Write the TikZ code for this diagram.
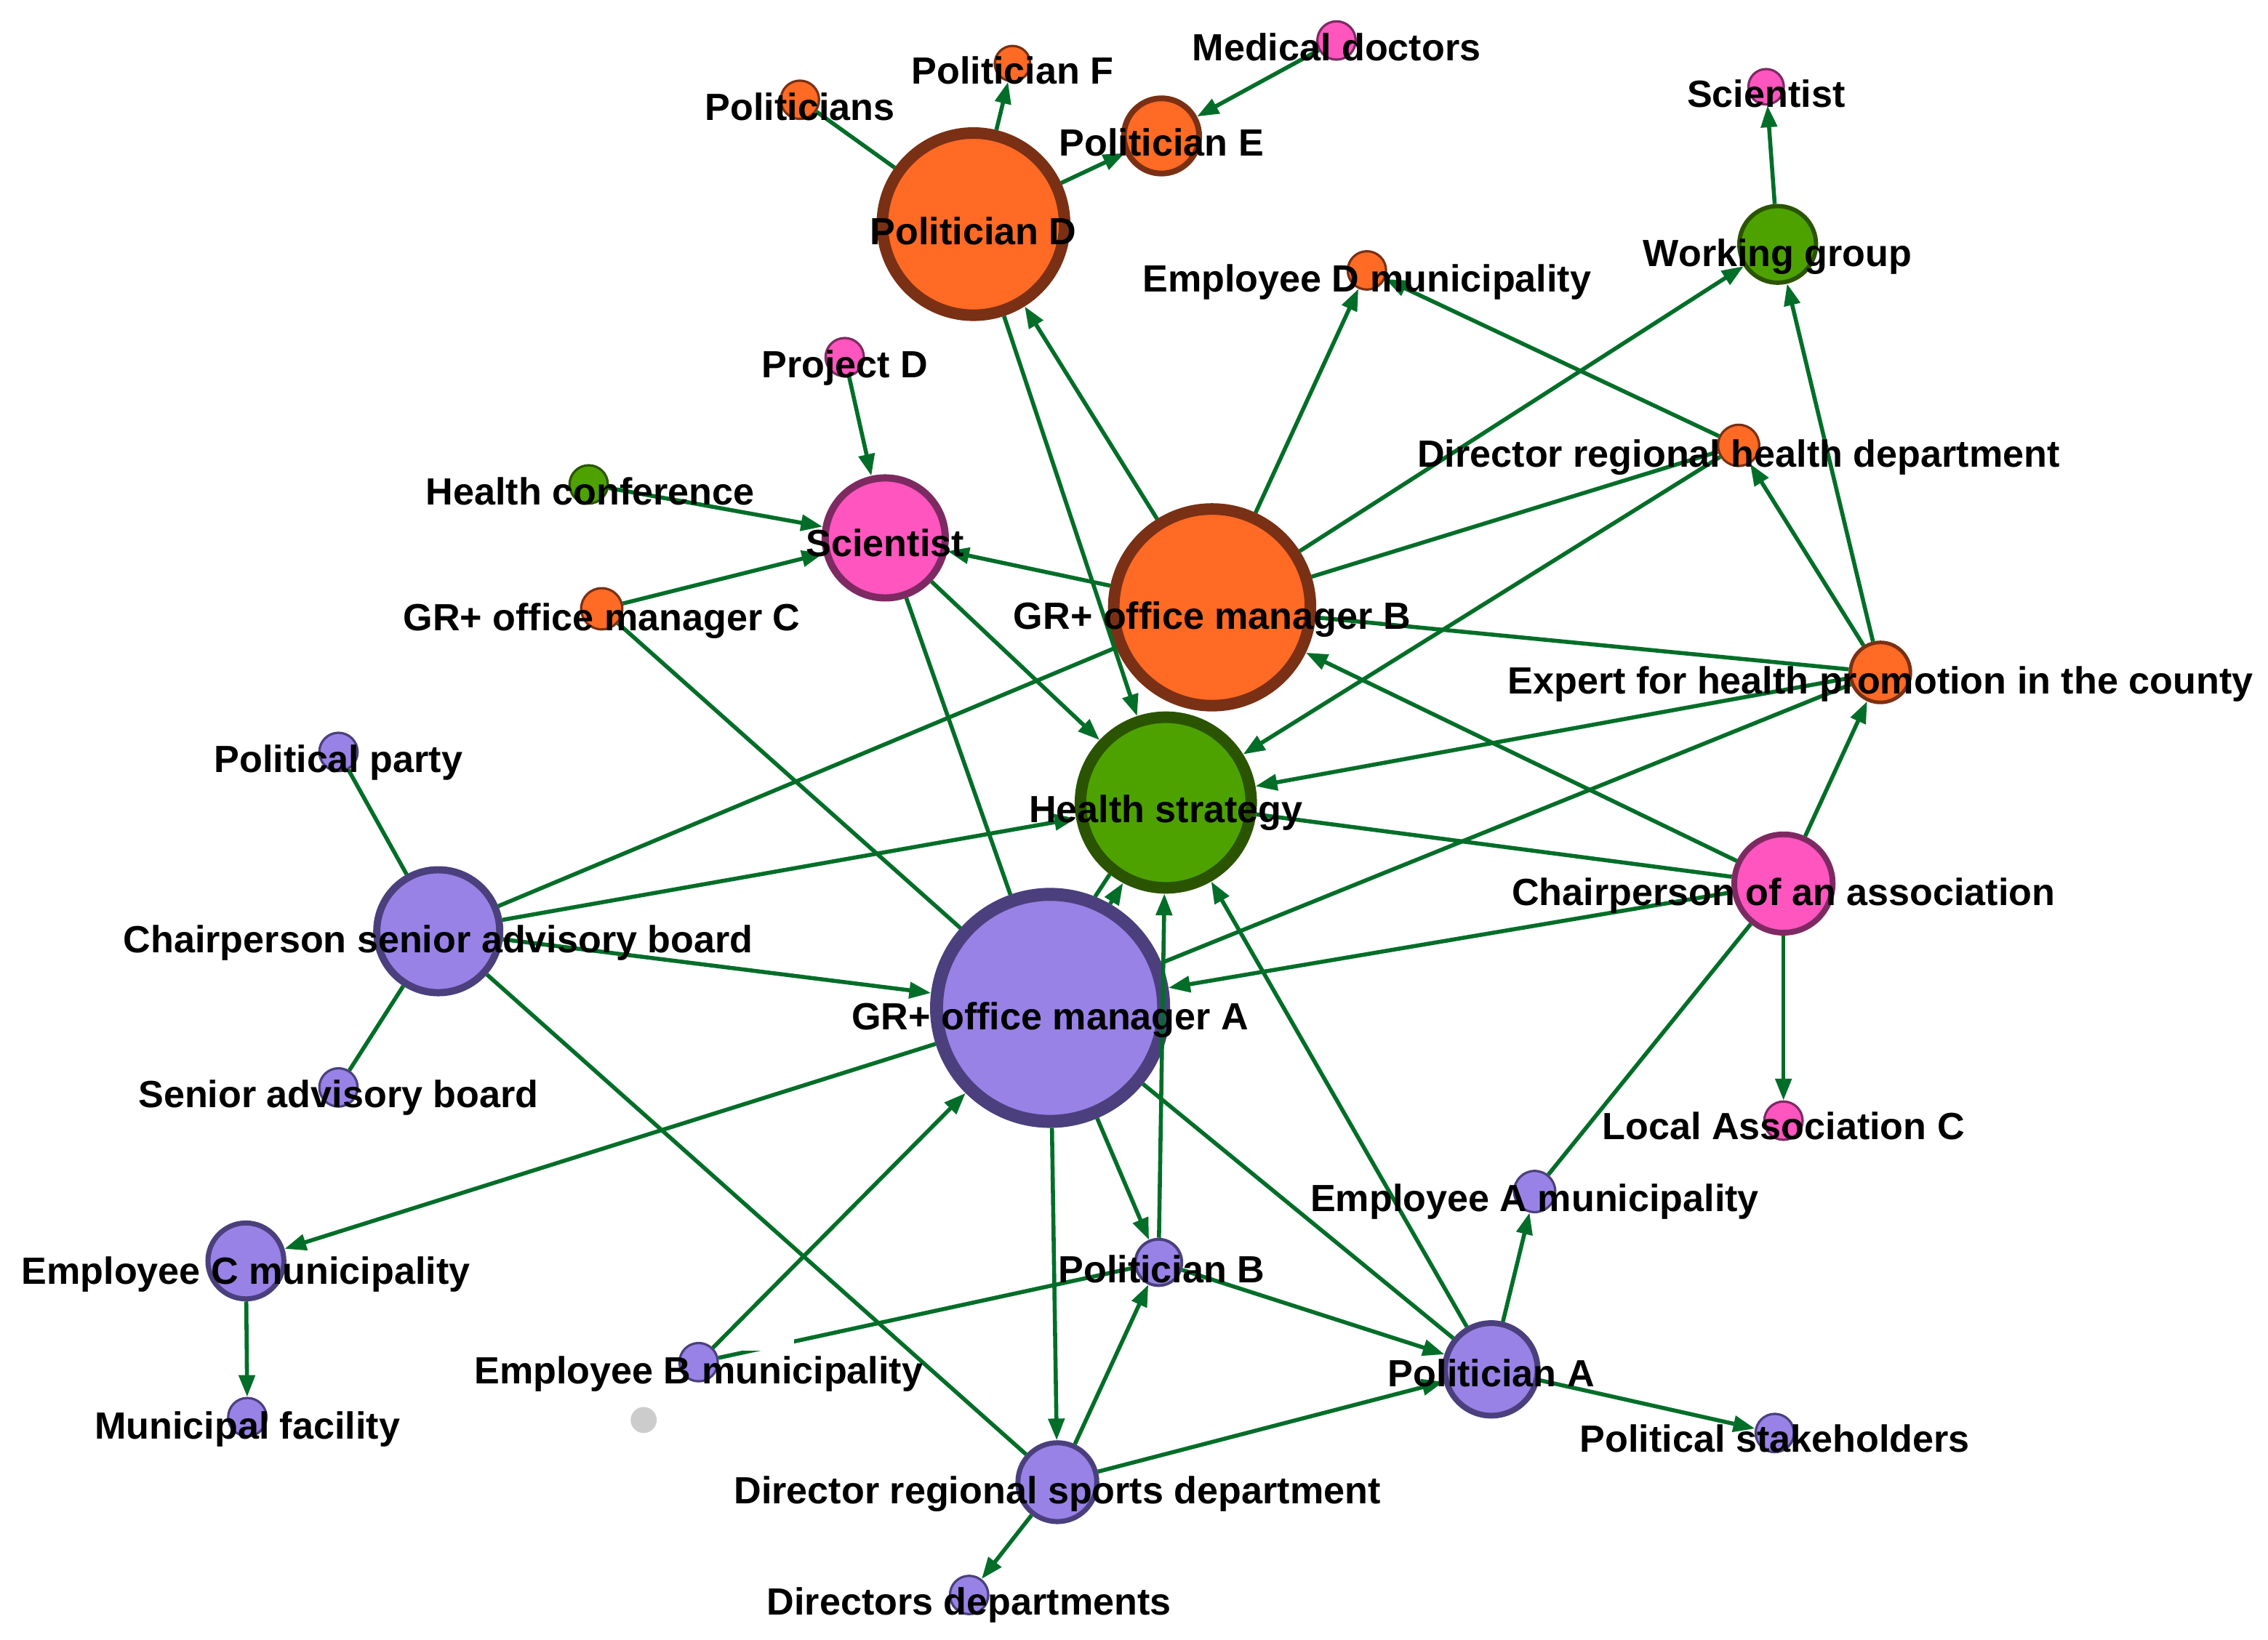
\documentclass[tikz,border=0pt]{standalone}
\usepackage{fontspec}
\setmainfont{Liberation Sans}
\usetikzlibrary{arrows.meta}
\definecolor{orF}{RGB}{255,106,36}
\definecolor{orD}{RGB}{122,48,20}
\definecolor{piF}{RGB}{255,85,190}
\definecolor{piD}{RGB}{126,42,98}
\definecolor{grF}{RGB}{78,162,0}
\definecolor{grD}{RGB}{42,84,0}
\definecolor{puF}{RGB}{152,130,230}
\definecolor{puD}{RGB}{75,64,125}
\definecolor{edgeG}{RGB}{0,110,40}
\definecolor{isoG}{RGB}{204,204,204}
\tikzset{
  vert/.style={circle, inner sep=0pt},
  vO/.style={vert, fill=orF, draw=orD},
  vP/.style={vert, fill=piF, draw=piD},
  vG/.style={vert, fill=grF, draw=grD},
  vU/.style={vert, fill=puF, draw=puD},
  vI/.style={vert, fill=isoG},
  lab/.style={font=\bfseries\fontsize{13.1}{15}\selectfont, anchor=base, inner sep=0pt, text=black},
  link/.style={draw=edgeG, line width=1.4pt},
  arr/.style={link, -{Triangle[length=7.5pt,width=5.5pt]}},
}
\newcommand\gv[6]{\node[#1, minimum size=#5pt, line width=#6pt] (#2) at (#3,#4) {};}
\newcommand\gl[4]{\node[lab] (#1) at (#2,#3+2) {#4};}
\begin{document}
\begin{tikzpicture}[x=0.5pt,y=-0.5pt]
\useasboundingbox (0,0) rectangle (1568,1134);
% orange
\gv{vO}{PD}{673}{155}{63}{4}
\gv{vO}{PE}{803}{94}{26}{2}
\gv{vO}{PF}{700}{44}{12.25}{0.8}
\gv{vO}{PS}{553}{69}{13.25}{0.8}
\gv{vO}{GB}{838}{420}{68}{4}
\gv{vO}{ED}{945}{187}{13.25}{0.8}
\gv{vO}{GC}{416}{421}{14.25}{0.8}
\gv{vO}{DH}{1202}{308}{14.25}{0.8}
\gv{vO}{EX}{1300}{465}{20.75}{1.25}
% pink
\gv{vP}{MD}{924}{28}{13.25}{0.8}
\gv{vP}{ST}{1221}{60}{12.25}{0.8}
\gv{vP}{PJ}{584}{247}{13.25}{0.8}
\gv{vP}{SC}{612}{372}{41.5}{2.5}
\gv{vP}{CA}{1233}{611}{34}{2}
\gv{vP}{LC}{1233}{775}{13.25}{0.8}
% green
\gv{vG}{WG}{1229}{169}{26.5}{1.5}
\gv{vG}{HC}{407}{335}{13.25}{0.8}
\gv{vG}{HS}{806}{555}{59}{4}
% purple
\gv{vU}{GA}{726}{697}{78.5}{4.5}
\gv{vU}{CS}{303}{644}{42.5}{2.5}
\gv{vU}{PP}{234}{520}{13.25}{0.8}
\gv{vU}{SB}{234}{752}{13.25}{0.8}
\gv{vU}{EC}{170}{872}{26.25}{1.75}
\gv{vU}{MF}{171}{980}{13.25}{0.8}
\gv{vU}{EB}{483}{942}{13.25}{0.8}
\gv{vU}{PB}{801}{873}{16}{1}
\gv{vU}{EA}{1061}{824}{14.25}{0.8}
\gv{vU}{PA}{1031}{947}{32}{2}
\gv{vU}{PSH}{1227}{991}{13.25}{0.8}
\gv{vU}{DS}{731}{1025}{27.25}{1.75}
\gv{vU}{DD}{670}{1103}{13.25}{0.8}
% isolated
\node[vI, minimum size=9pt] (GY) at (445,982) {};
% edges
\draw[link] (PS) -- (PD);
\draw[arr] (PD) -- (PF);
\draw[arr] (PD) -- (PE);
\draw[arr] (MD) -- (PE);
\draw[arr] (PD) -- (HS);
\draw[arr] (GB) -- (PD);
\draw[arr] (GB) -- (ED);
\draw[arr] (DH) -- (ED);
\draw[arr] (GB) -- (WG);
\draw[link] (GB) -- (DH);
\draw[arr] (DH) -- (HS);
\draw[arr] (EX) -- (DH);
\draw[arr] (EX) -- (WG);
\draw[arr] (EX) -- (HS);
\draw[link] (EX) -- (GB);
\draw[arr] (CA) -- (EX);
\draw[arr] (CA) -- (GB);
\draw[link] (CA) -- (HS);
\draw[arr] (CA) -- (GA);
\draw[link] (GA) -- (EX);
\draw[arr] (CA) -- (LC);
\draw[link] (CA) -- (EA);
\draw[arr] (PA) -- (EA);
\draw[arr] (PA) -- (PSH);
\draw[arr] (PA) -- (HS);
\draw[link] (GA) -- (PA);
\draw[arr] (PB) -- (PA);
\draw[arr] (DS) -- (PA);
\draw[arr] (DS) -- (PB);
\draw[arr] (GA) -- (DS);
\draw[arr] (GA) -- (PB);
\draw[arr] (PB) -- (HS);
\draw[link] (PB) -- (EB);
% white patch over the Politician B -- Employee B line
\fill[white] (514,913) rectangle (549,934);
\draw[arr] (EB) -- (GA);
\draw[arr] (GA) -- (EC);
\draw[arr] (EC) -- (MF);
\draw[arr] (DS) -- (DD);
\draw[link] (CS) -- (DS);
\draw[arr] (CS) -- (GA);
\draw[arr] (CS) -- (HS);
\draw[link] (CS) -- (GB);
\draw[link] (CS) -- (PP);
\draw[link] (CS) -- (SB);
\draw[link] (GC) -- (GA);
\draw[arr] (GC) -- (SC);
\draw[arr] (HC) -- (SC);
\draw[arr] (PJ) -- (SC);
\draw[arr] (GB) -- (SC);
\draw[arr] (SC) -- (HS);
\draw[link] (SC) -- (GA);
\draw[arr] (WG) -- (ST);
\draw[arr] (GA.60) -- (HS.242);
\draw[link] (GA.68) -- (HS.232);
% labels
\gl{lPD}{673}{167}{Politician D}
\gl{lPE}{803}{106}{Politician E}
\gl{lPF}{700}{56}{Politician F}
\gl{lPS}{553}{81}{Politicians}
\gl{lGB}{838}{433}{GR+ office manager B}
\gl{lED}{945}{200}{Employee D municipality}
\gl{lGC}{416}{434}{GR+ office manager C}
\gl{lDH}{1202}{321}{Director regional health department}
\gl{lEX}{1300}{478}{Expert for health promotion in the county}
\gl{lMD}{924}{40}{Medical doctors}
\gl{lST}{1221}{72}{Scientist}
\gl{lPJ}{584}{259}{Project D}
\gl{lSC}{612}{383}{Scientist}
\gl{lCA}{1233}{624}{Chairperson of an association}
\gl{lLC}{1233}{786}{Local Association C}
\gl{lWG}{1229}{182}{Working group}
\gl{lHC}{408}{347}{Health conference}
\gl{lHS}{806}{567}{Health strategy}
\gl{lGA}{726}{710}{GR+ office manager A}
\gl{lCS}{303}{657}{Chairperson senior advisory board}
\gl{lPP}{234}{532}{Political party}
\gl{lSB}{234}{764}{Senior advisory board}
\gl{lEC}{170}{886}{Employee C municipality}
\gl{lMF}{171}{993}{Municipal facility}
\gl{lEB}{483}{955}{Employee B municipality}
\gl{lPB}{803}{885}{Politician B}
\gl{lEA}{1061}{836}{Employee A municipality}
\gl{lPA}{1031}{957}{Politician A}
\gl{lPSH}{1227}{1002}{Political stakeholders}
\gl{lDS}{731}{1038}{Director regional sports department}
\gl{lDD}{670}{1115}{Directors departments}
\end{tikzpicture}
\end{document}
